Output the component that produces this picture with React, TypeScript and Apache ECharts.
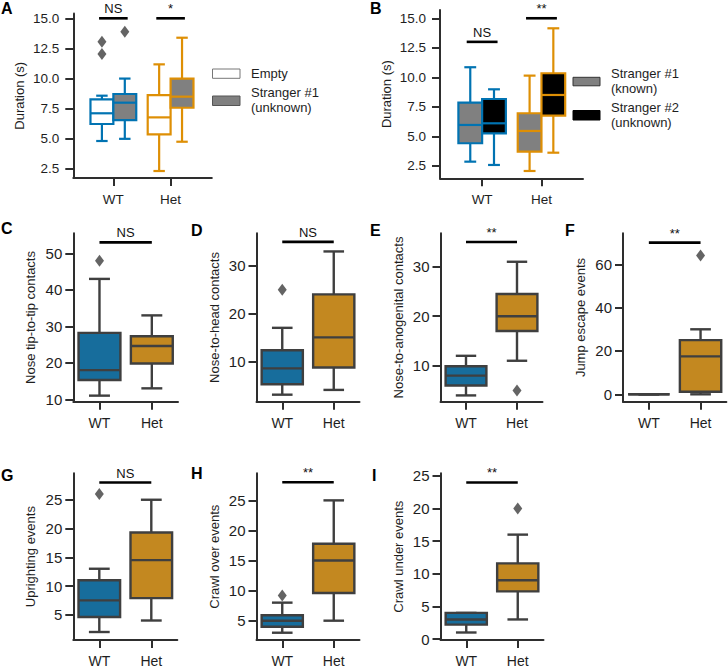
import React, { useEffect, useRef } from "react";
import * as echarts from "echarts";

// ---------- DATA ----------
const groups = ["WT", "Het"];
const durationTicks = [2.5, 5, 7.5, 10, 12.5, 15];

// Panel A: [min, Q1, median, Q3, max]
const aEmptyWT = [4.82, 6.23, 7.12, 8.28, 8.58];
const aEmptyHet = [2.33, 5.37, 6.78, 8.63, 11.18];
const aStrangerWT = [5.0, 6.56, 8.0, 8.72, 10.0];
const aStrangerHet = [4.76, 7.58, 8.5, 10.0, 13.39];
const aOutEmptyWT = [13.06, 12.04];
const aOutStrangerWT = [13.89];
const aSigLabels = ["NS", "*"];
const aSigY = [15, 15];

// Panel B
const bKnownWT = [2.85, 4.41, 5.96, 7.85, 10.85];
const bKnownHet = [2.06, 3.7, 5.45, 6.95, 10.14];
const bUnknownWT = [2.57, 5.25, 6.1, 8.16, 8.98];
const bUnknownHet = [3.61, 6.75, 8.5, 10.34, 14.15];
const bSigLabels = ["NS", "**"];
const bSigY = [13, 15];

// Panel C: Nose tip-to-tip contacts
const cWT = [11, 15.3, 18, 28.2, 43];
const cHet = [13, 19.8, 24.6, 27.3, 33];
const cOutWT = [48];
const cTicks = [10, 20, 30, 40, 50];
// Panel D: Nose-to-head contacts
const dWT = [3, 5.2, 8.5, 12.3, 17];
const dHet = [4, 8.7, 15, 24, 33];
const dOutWT = [25];
const dTicks = [10, 20, 30];
// Panel E: Nose-to-anogenital contacts
const eWT = [4, 6, 8, 9.9, 12];
const eHet = [11, 17, 20, 24.5, 31];
const eOutHet = [5];
const eTicks = [10, 20, 30];
// Panel F: Jump escape events
const fWT = [0, 0, 0, 0, 0];
const fHet = [0, 1.2, 17.5, 25, 30];
const fOutHet = [64];
const fTicks = [0, 20, 40, 60];
// Panel G: Uprighting events
const gWT = [2, 4.6, 7.5, 11, 13];
const gHet = [4, 7.9, 14.5, 19.3, 25];
const gOutWT = [26];
const gTicks = [5, 10, 15, 20, 25];
// Panel H: Crawl over events
const hWT = [3, 4, 5, 5.9, 8];
const hHet = [5, 9.6, 15, 17.8, 25];
const hOutWT = [9.2];
const hTicks = [5, 10, 15, 20, 25];
// Panel I: Crawl under events
const iWT = [1, 2.2, 3, 4, 4];
const iHet = [3, 7.3, 9, 11.6, 16];
const iOutHet = [20];
const iTicks = [0, 5, 10, 15, 20, 25];

// significance (rows 2-3)
const cSig = { label: "NS", y: 53 };
const dSig = { label: "NS", y: 35 };
const eSig = { label: "**", y: 35 };
const fSig = { label: "**", y: 70 };
const gSig = { label: "NS", y: 28 };
const hSig = { label: "**", y: 28 };
const iSig = { label: "**", y: 24 };

// ---------- STYLE ----------
const FONT = "'Liberation Sans', Arial, Helvetica, sans-serif";
const AXIS = "#2e2e2e";
const TEXT = "#1e1e1e";
const BLUE = "#0173b2";
const ORANGE = "#de8f05";
const BLUE_FILL = "#176d9c";
const ORANGE_FILL = "#c38820";
const EDGE = "#3f3f3f";
const GRAY = "#808080";

type BoxItem = { pos: number; stats: number[]; fill: string; stroke: string };
type Panel = {
  letter: string;
  letterX: number;
  letterY: number;
  grid: { left: number; top: number; width: number; height: number };
  xMin: number;
  xMax: number;
  yMin: number;
  yMax: number;
  yTicks: number[];
  decimals: number;
  title: string;
  nameGap: number;
  tickFont: number;
  labelMargin: number;
  xFont: number;
  xMargin: number;
  boxWidth: number;
  lineWidth: number;
  boxes: BoxItem[];
  outliers: number[][];
  sigs: { x1: number; x2: number; y: number; label: string }[];
};

function row2Panel(
  letter: string,
  letterX: number,
  letterY: number,
  grid: Panel["grid"],
  yMin: number,
  yMax: number,
  ticks: number[],
  title: string,
  wt: number[],
  het: number[],
  outWT: number[],
  outHet: number[],
  sig: { label: string; y: number }
): Panel {
  return {
    letter,
    letterX,
    letterY,
    grid,
    xMin: -0.5,
    xMax: 1.5,
    yMin,
    yMax,
    yTicks: ticks,
    decimals: 0,
    title,
    nameGap: 36,
    tickFont: 15,
    labelMargin: 11,
    xFont: 14,
    xMargin: 14,
    boxWidth: 0.8,
    lineWidth: 2.4,
    boxes: [
      { pos: 0, stats: wt, fill: BLUE_FILL, stroke: EDGE },
      { pos: 1, stats: het, fill: ORANGE_FILL, stroke: EDGE },
    ],
    outliers: [...outWT.map((v) => [0, v]), ...outHet.map((v) => [1, v])],
    sigs: [{ x1: 0, x2: 1, y: sig.y, label: sig.label }],
  };
}

const panels: Panel[] = [
  {
    letter: "A",
    letterX: 1,
    letterY: 0,
    grid: { left: 73.3, top: 13.5, width: 138.5, height: 164.5 },
    xMin: -0.7,
    xMax: 1.72,
    yMin: 1.75,
    yMax: 15.4,
    yTicks: durationTicks,
    decimals: 1,
    title: "Duration (s)",
    nameGap: 47,
    tickFont: 13.5,
    labelMargin: 14,
    xFont: 13.5,
    xMargin: 14,
    boxWidth: 0.4,
    lineWidth: 2.2,
    boxes: [
      { pos: -0.2, stats: aEmptyWT, fill: "#ffffff", stroke: BLUE },
      { pos: 0.2, stats: aStrangerWT, fill: GRAY, stroke: BLUE },
      { pos: 0.8, stats: aEmptyHet, fill: "#ffffff", stroke: ORANGE },
      { pos: 1.2, stats: aStrangerHet, fill: GRAY, stroke: ORANGE },
    ],
    outliers: [...aOutEmptyWT.map((v) => [-0.2, v]), ...aOutStrangerWT.map((v) => [0.2, v])],
    sigs: aSigLabels.map((l, i) => ({ x1: i - 0.25, x2: i + 0.25, y: aSigY[i], label: l })),
  },
  {
    letter: "B",
    letterX: 370,
    letterY: 0,
    grid: { left: 440, top: 10, width: 143, height: 168.3 },
    xMin: -0.71,
    xMax: 1.7,
    yMin: 1.44,
    yMax: 15.7,
    yTicks: durationTicks,
    decimals: 1,
    title: "Duration (s)",
    nameGap: 47,
    tickFont: 13.5,
    labelMargin: 14,
    xFont: 13.5,
    xMargin: 14,
    boxWidth: 0.4,
    lineWidth: 2.2,
    boxes: [
      { pos: -0.2, stats: bKnownWT, fill: GRAY, stroke: BLUE },
      { pos: 0.2, stats: bUnknownWT, fill: "#000000", stroke: BLUE },
      { pos: 0.8, stats: bKnownHet, fill: GRAY, stroke: ORANGE },
      { pos: 1.2, stats: bUnknownHet, fill: "#000000", stroke: ORANGE },
    ],
    outliers: [],
    sigs: bSigLabels.map((l, i) => ({ x1: i - 0.26, x2: i + 0.26, y: bSigY[i], label: l })),
  },
  row2Panel("C", 1, 220, { left: 73.3, top: 233.3, width: 104.7, height: 168.4 }, 9.34, 55.5, cTicks, "Nose tip-to-tip contacts", cWT, cHet, cOutWT, [], cSig),
  row2Panel("D", 191, 222, { left: 256.5, top: 233.3, width: 103, height: 168.4 }, 1.53, 36.8, dTicks, "Nose-to-head contacts", dWT, dHet, dOutWT, [], dSig),
  row2Panel("E", 370, 222, { left: 440.5, top: 233.3, width: 102, height: 168.4 }, 2.73, 36.75, eTicks, "Nose-to-anogenital contacts", eWT, eHet, [], eOutHet, eSig),
  row2Panel("F", 565, 222, { left: 623, top: 233.3, width: 103.4, height: 168.4 }, -3.41, 74.3, fTicks, "Jump escape events", fWT, fHet, [], fOutHet, fSig),
  row2Panel("G", 1, 467, { left: 73.3, top: 473.3, width: 104, height: 169 }, 0.61, 29.6, gTicks, "Uprighting events", gWT, gHet, gOutWT, [], gSig),
  row2Panel("H", 191, 465, { left: 256.5, top: 473.3, width: 103, height: 169 }, 1.79, 29.5, hTicks, "Crawl over events", hWT, hHet, hOutWT, [], hSig),
  row2Panel("I", 372, 467, { left: 440.5, top: 473.3, width: 103, height: 169 }, -0.15, 25.4, iTicks, "Crawl under events", iWT, iHet, [], iOutHet, iSig),
];

function boxRender(items: BoxItem[], boxW: number, lw: number) {
  return (params: any, api: any) => {
    const it = items[params.dataIndex];
    const x = api.value(0);
    const c = (v: number) => api.coord([x, v]);
    const pMin = c(api.value(1));
    const pQ1 = c(api.value(2));
    const pMed = c(api.value(3));
    const pQ3 = c(api.value(4));
    const pMax = c(api.value(5));
    const cx = pMin[0];
    const half = api.size([boxW, 0])[0] / 2;
    const cap = half / 2;
    const ls = { stroke: it.stroke, lineWidth: lw, fill: null };
    return {
      type: "group",
      children: [
        { type: "line", shape: { x1: cx, y1: pMin[1], x2: cx, y2: pQ1[1] }, style: ls },
        { type: "line", shape: { x1: cx, y1: pQ3[1], x2: cx, y2: pMax[1] }, style: ls },
        { type: "line", shape: { x1: cx - cap, y1: pMin[1], x2: cx + cap, y2: pMin[1] }, style: ls },
        { type: "line", shape: { x1: cx - cap, y1: pMax[1], x2: cx + cap, y2: pMax[1] }, style: ls },
        {
          type: "rect",
          shape: { x: cx - half, y: pQ3[1], width: half * 2, height: pQ1[1] - pQ3[1] },
          style: { fill: it.fill, stroke: it.stroke, lineWidth: lw },
        },
        { type: "line", shape: { x1: cx - half, y1: pMed[1], x2: cx + half, y2: pMed[1] }, style: ls },
      ],
    };
  };
}

function sigRender(labels: string[]) {
  return (params: any, api: any) => {
    const p1 = api.coord([api.value(0), api.value(2)]);
    const p2 = api.coord([api.value(1), api.value(2)]);
    return {
      type: "group",
      children: [
        { type: "line", shape: { x1: p1[0], y1: p1[1], x2: p2[0], y2: p2[1] }, style: { stroke: "#000", lineWidth: 2.6 } },
        {
          type: "text",
          x: (p1[0] + p2[0]) / 2,
          y: p1[1] - 3,
          style: {
            text: labels[params.dataIndex],
            fill: "#111",
            fontSize: 13,
            fontFamily: FONT,
            align: "center",
            verticalAlign: "bottom",
          },
        },
      ],
    };
  };
}

function buildOption() {
  const grid: any[] = [];
  const xAxis: any[] = [];
  const yAxis: any[] = [];
  const series: any[] = [];
  const graphic: any[] = [];

  panels.forEach((p, i) => {
    grid.push({ ...p.grid, containLabel: false });
    xAxis.push({
      gridIndex: i,
      type: "value",
      min: p.xMin,
      max: p.xMax,
      axisLine: { show: true, onZero: false, lineStyle: { color: AXIS, width: 2 } },
      axisTick: { show: true, length: 8, customValues: [0, 1], lineStyle: { color: AXIS, width: 2 } },
      axisLabel: {
        customValues: [0, 1],
        formatter: (v: number) => groups[Math.round(v)] ?? "",
        fontSize: p.xFont,
        fontFamily: FONT,
        color: TEXT,
        margin: p.xMargin,
      },
      splitLine: { show: false },
    });
    yAxis.push({
      gridIndex: i,
      type: "value",
      min: p.yMin,
      max: p.yMax,
      name: p.title,
      nameLocation: "middle",
      nameGap: p.nameGap,
      nameTextStyle: { fontSize: 13, fontFamily: FONT, color: TEXT },
      axisLine: { show: true, onZero: false, lineStyle: { color: AXIS, width: 2 } },
      axisTick: { show: true, length: 8, customValues: p.yTicks, lineStyle: { color: AXIS, width: 2 } },
      axisLabel: {
        customValues: p.yTicks,
        formatter: (v: number) => v.toFixed(p.decimals),
        fontSize: p.tickFont,
        fontFamily: FONT,
        color: TEXT,
        margin: p.labelMargin,
      },
      splitLine: { show: false },
    });
    series.push({
      type: "custom",
      xAxisIndex: i,
      yAxisIndex: i,
      renderItem: boxRender(p.boxes, p.boxWidth, p.lineWidth),
      data: p.boxes.map((b) => [b.pos, ...b.stats]),
      z: 2,
    });
    if (p.outliers.length) {
      series.push({
        type: "scatter",
        xAxisIndex: i,
        yAxisIndex: i,
        symbol: "diamond",
        symbolSize: [9, 12],
        itemStyle: { color: "#3d3d3d" },
        data: p.outliers,
        z: 3,
      });
    }
    series.push({
      type: "custom",
      xAxisIndex: i,
      yAxisIndex: i,
      renderItem: sigRender(p.sigs.map((s) => s.label)),
      data: p.sigs.map((s) => [s.x1, s.x2, s.y]),
      clip: false,
      z: 4,
    });
    graphic.push({
      type: "text",
      left: p.letterX,
      top: p.letterY,
      style: { text: p.letter, fontSize: 16, fontWeight: "bold", fontFamily: FONT, fill: "#000" },
    });
  });

  // Legends
  const legText = (x: number, y: number, t: string) => ({
    type: "text",
    x,
    y,
    style: { text: t, fontSize: 13, fontFamily: FONT, fill: TEXT, verticalAlign: "middle", align: "left" },
  });
  graphic.push(
    { type: "rect", shape: { x: 212.5, y: 69, width: 27.5, height: 9.3 }, style: { fill: "#ffffff", stroke: "#777", lineWidth: 1 } },
    legText(251, 73.5, "Empty"),
    { type: "rect", shape: { x: 212.5, y: 96, width: 27.5, height: 9.5 }, style: { fill: GRAY, stroke: "#555", lineWidth: 1 } },
    legText(251, 92.5, "Stranger #1"),
    legText(251, 107.5, "(unknown)"),
    { type: "rect", shape: { x: 573, y: 77.3, width: 27, height: 8.5 }, style: { fill: GRAY, stroke: "#333", lineWidth: 1 } },
    legText(611, 73.5, "Stranger #1"),
    legText(611, 88.5, "(known)"),
    { type: "rect", shape: { x: 573, y: 110.5, width: 27, height: 9.5 }, style: { fill: "#000", stroke: "#000", lineWidth: 1 } },
    legText(611, 107.5, "Stranger #2"),
    legText(611, 122, "(unknown)")
  );

  return {
    animation: false,
    backgroundColor: "#ffffff",
    textStyle: { fontFamily: FONT },
    grid,
    xAxis,
    yAxis,
    series,
    graphic,
  };
}

export default function App() {
  const ref = useRef<HTMLDivElement>(null);
  useEffect(() => {
    if (!ref.current) return;
    const chart = echarts.init(ref.current, undefined, { renderer: "svg", width: 728, height: 668 });
    chart.setOption(buildOption() as any);
    return () => chart.dispose();
  }, []);
  return (
    <div
      ref={ref}
      style={{ position: "absolute", left: 0, top: 0, width: 728, height: 668, background: "#fff" }}
    />
  );
}
